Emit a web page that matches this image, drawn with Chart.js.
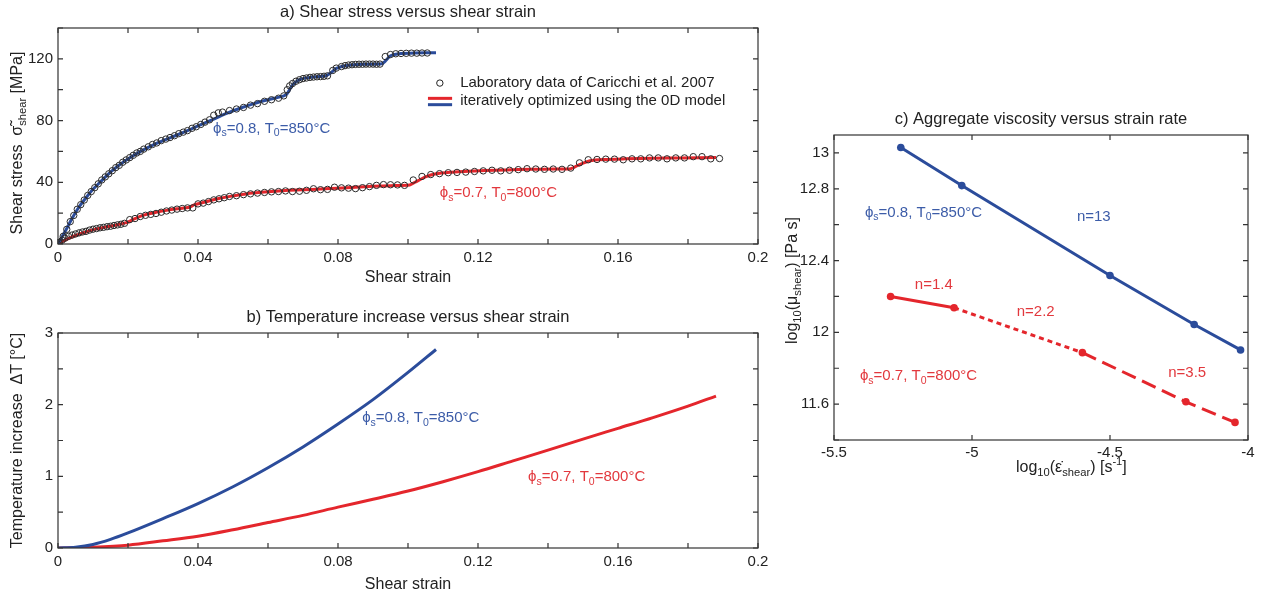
<!DOCTYPE html>
<html>
<head>
<meta charset="utf-8">
<script src="https://cdn.jsdelivr.net/npm/chart.js@4.4.1/dist/chart.umd.min.js"></script>
<style>
  body { margin: 0; background: #fff; }
  #wrap { position: relative; width: 1261px; height: 596px; }
  canvas { position: absolute; }
</style>
</head>
<body>
<div id="wrap">
  <canvas id="chartA" width="782" height="292" style="left:0;top:0;width:782px;height:292px"></canvas>
  <canvas id="chartB" width="782" height="304" style="left:0;top:292px;width:782px;height:304px"></canvas>
  <canvas id="chartC" width="491" height="596" style="left:770px;top:0;width:491px;height:596px"></canvas>
</div>
<script>
// ---- a) shear stress vs shear strain ----
const labBlueStrain = [0.0003,0.0015,0.0025,0.0035,0.0045,0.0055,0.0065,0.0075,0.0085,0.0095,0.0105,0.0115,0.0125,0.0135,0.0145,0.0155,0.0165,0.0175,0.0185,0.0195,0.0205,0.0215,0.0225,0.0235,0.0245,0.0258,0.027,0.0282,0.0295,0.0308,0.032,0.0333,0.0345,0.0358,0.037,0.0383,0.0395,0.0408,0.042,0.0433,0.0445,0.0458,0.047,0.049,0.051,0.053,0.055,0.057,0.059,0.061,0.063,0.0645,0.0655,0.0662,0.067,0.068,0.069,0.070,0.071,0.072,0.073,0.074,0.075,0.076,0.077,0.0785,0.0795,0.081,0.082,0.083,0.084,0.085,0.086,0.087,0.088,0.089,0.090,0.091,0.092,0.0935,0.095,0.0965,0.098,0.0995,0.101,0.1025,0.104,0.1055];
const labBlueStress = [1,5,9.5,14.5,18.5,22.5,25.5,28.5,31.5,34,36.5,39,41.5,43.5,45.5,47.5,49.5,51,53,54.5,56,57.5,59,60,61.5,63,64.5,65.5,67,68,69,70.2,71.5,72.5,73.5,75,76,77.5,79,80.5,83.5,85,85.5,86.5,87.5,88.5,90,91,92.5,93.5,94.5,96,100,102.5,104,105.5,106.5,107.2,107.6,108,108.2,108.4,108.5,108.7,109,112.5,114,115,115.6,116,116.2,116.4,116.5,116.5,116.6,116.6,116.6,116.5,116.6,121.5,122.8,123.3,123.5,123.6,123.7,123.7,123.8,123.8];
const modelBlueStrain = [0,0.0025,0.004,0.006,0.008,0.010,0.012,0.014,0.016,0.018,0.021,0.024,0.028,0.032,0.036,0.040,0.044,0.048,0.052,0.056,0.060,0.0645,0.0655,0.067,0.069,0.072,0.0765,0.078,0.0795,0.083,0.088,0.0925,0.0935,0.095,0.098,0.102,0.108];
const modelBlueStress = [0,10,16.5,24,30,35.5,40,44.5,48.5,52,56.5,60.5,65,68.8,72.5,76.5,80.5,84.5,88,91,93.5,96,97.5,103,106.5,108,109,111,113.8,115.8,116.5,116.8,118.5,122,123.4,123.8,124];
const labRedStrain = [0.0003,0.0012,0.002,0.003,0.004,0.005,0.006,0.007,0.008,0.009,0.010,0.011,0.012,0.013,0.014,0.015,0.016,0.017,0.018,0.019,0.0205,0.022,0.0235,0.025,0.0265,0.028,0.0295,0.031,0.0325,0.034,0.0355,0.037,0.0385,0.040,0.0415,0.043,0.0445,0.046,0.0475,0.049,0.051,0.053,0.055,0.057,0.059,0.061,0.063,0.065,0.067,0.069,0.071,0.073,0.075,0.077,0.079,0.081,0.083,0.085,0.087,0.089,0.091,0.093,0.095,0.097,0.099,0.1015,0.104,0.1065,0.109,0.1115,0.114,0.1165,0.119,0.1215,0.124,0.1265,0.129,0.1315,0.134,0.1365,0.139,0.1415,0.144,0.1465,0.149,0.1515,0.154,0.1565,0.159,0.1615,0.164,0.1665,0.169,0.1715,0.174,0.1765,0.179,0.1815,0.184,0.1865,0.189];
const labRedStress = [0.8,2.5,3.8,5,5.8,6.5,7.2,7.8,8.2,9,9.6,10,10.5,10.8,11.2,11.5,12,12.4,12.8,13.4,15.8,16.5,17.8,18.6,19.2,19.8,20.6,21.4,22,22.6,23,23.4,23.4,26,26.5,27.5,28.6,29.3,30,30.8,31.3,32,32.5,33,33.4,33.8,34,34.4,34,34.2,34.8,35.8,35.2,35.4,36.8,36.4,36.2,35.9,36.5,37.2,38,38.5,38.4,38.3,38,41.5,43.8,45,45.6,46.2,46.4,46.6,47,47.4,47.8,47.4,47.8,48.2,48.8,48.6,48.4,48.6,48.4,49.2,52.6,54.6,54.8,55,55,54.6,55.2,55.2,55.8,55.8,55.2,55.8,55.8,56.6,56.6,55.2,55.4];
const modelRedStrain = [0,0.002,0.005,0.008,0.011,0.014,0.017,0.0195,0.022,0.025,0.028,0.031,0.034,0.0375,0.039,0.042,0.046,0.050,0.054,0.058,0.062,0.066,0.070,0.075,0.080,0.085,0.090,0.095,0.1005,0.102,0.105,0.108,0.112,0.116,0.122,0.128,0.135,0.142,0.1465,0.149,0.152,0.156,0.162,0.170,0.178,0.188];
const modelRedStress = [0,2.5,5.5,7.8,9.8,11.2,12.5,13.8,16.5,19,20.5,21.8,22.8,23.8,25.5,27.2,29.5,31.2,32.6,33.5,34.2,34.8,35.2,35.6,36.2,36.8,37.4,37.8,38.2,40,43.5,45.5,46.5,47,47.6,48,48.4,48.6,48.8,51.5,54,54.8,55.2,55.6,55.8,56];

// ---- b) temperature increase vs shear strain ----
const tempBlueStrain = [0,0.005,0.01,0.015,0.02,0.03,0.04,0.05,0.06,0.07,0.08,0.09,0.1,0.108];
const tempBlueDT = [0,0.012,0.05,0.12,0.21,0.41,0.62,0.855,1.12,1.41,1.73,2.07,2.45,2.77];
const tempRedStrain = [0,0.01,0.02,0.03,0.04,0.05,0.06,0.07,0.08,0.09,0.1,0.11,0.12,0.13,0.14,0.15,0.16,0.17,0.18,0.188];
const tempRedDT = [0,0.012,0.04,0.1,0.165,0.255,0.355,0.455,0.57,0.68,0.795,0.925,1.065,1.215,1.365,1.52,1.67,1.82,1.98,2.12];

// ---- c) aggregate viscosity vs strain rate ----
const rateBlue = [-5.258,-5.037,-4.5,-4.195,-4.027];
const viscBlue = [13.03,12.818,12.317,12.044,11.902];
const rateRed = [-5.295,-5.065,-4.6,-4.225,-4.047];
const viscRed = [12.2,12.137,11.887,11.613,11.498];
const viscYTickLabels = [11.6, 12, 12.4, 12.8, 13];

const FONT = "'Liberation Sans', Arial, Helvetica, sans-serif";
const BLUE = '#2b4c9b', RED = '#e4262c';
const TXT_BLUE = '#3c5ca8', TXT_RED = '#e2383d', INK = '#222';
Chart.defaults.font.family = FONT;
Chart.defaults.font.size = 15;
Chart.defaults.color = INK;

function xy(xs, ys) { return xs.map((x, i) => ({ x: x, y: ys[i] })); }

function drawRich(ctx, parts, x, y, size, color, align) {
  const seg = parts.map(([t, k]) => {
    const fs = k ? size * 0.7 : size;
    ctx.font = fs + 'px ' + FONT;
    return { t: t, fs: fs, w: ctx.measureText(t).width, dy: k === 'sub' ? size * 0.32 : (k === 'sup' ? -size * 0.38 : 0) };
  });
  const total = seg.reduce((s, p) => s + p.w, 0);
  let cx = align === 'center' ? x - total / 2 : x;
  ctx.fillStyle = color;
  ctx.textBaseline = 'middle';
  ctx.textAlign = 'left';
  seg.forEach(p => { ctx.font = p.fs + 'px ' + FONT; ctx.fillText(p.t, cx, y + p.dy); cx += p.w; });
}

// box, inward ticks, titles, labels and notes
const frame = {
  id: 'frame',
  afterDraw(chart, args, o) {
    const ctx = chart.ctx, a = chart.chartArea;
    const xs = chart.scales.x, ys = chart.scales.y;
    ctx.save();
    ctx.strokeStyle = '#333';
    ctx.lineWidth = 1.2;
    ctx.strokeRect(a.left, a.top, a.right - a.left, a.bottom - a.top);
    ctx.beginPath();
    xs.ticks.forEach(t => {
      const p = xs.getPixelForValue(t.value);
      ctx.moveTo(p, a.bottom); ctx.lineTo(p, a.bottom - 5);
      ctx.moveTo(p, a.top); ctx.lineTo(p, a.top + 5);
    });
    ys.ticks.forEach(t => {
      const p = ys.getPixelForValue(t.value);
      ctx.moveTo(a.left, p); ctx.lineTo(a.left + 5, p);
      ctx.moveTo(a.right, p); ctx.lineTo(a.right - 5, p);
    });
    ctx.stroke();

    const cx = (a.left + a.right) / 2;
    drawRich(ctx, [[o.title, '']], cx, a.top - 16, 16.5, INK, 'center');
    const xlx = o.xLabel.at !== undefined ? xs.getPixelForValue(o.xLabel.at) : cx;
    drawRich(ctx, o.xLabel.parts, xlx, a.bottom + o.xLabel.dy, 16, INK, 'center');
    ctx.save();
    ctx.translate(o.yLabel.x, (a.top + a.bottom) / 2 + o.yLabel.dy);
    ctx.rotate(-Math.PI / 2);
    drawRich(ctx, o.yLabel.parts, 0, 0, 16, INK, 'center');
    ctx.restore();

    (o.notes || []).forEach(n => {
      drawRich(ctx, n.parts, xs.getPixelForValue(n.x), ys.getPixelForValue(n.y), 15, n.color, 'left');
    });

    if (o.legend) {
      const L = o.legend;
      ctx.strokeStyle = '#222'; ctx.lineWidth = 1;
      ctx.beginPath();
      ctx.arc(xs.getPixelForValue(L.markX), ys.getPixelForValue(L.row1), 3.2, 0, Math.PI * 2);
      ctx.stroke();
      ctx.lineWidth = 3;
      [[RED, L.redY], [BLUE, L.blueY]].forEach(([c, yv]) => {
        ctx.strokeStyle = c;
        ctx.beginPath();
        ctx.moveTo(xs.getPixelForValue(L.lineX0), ys.getPixelForValue(yv));
        ctx.lineTo(xs.getPixelForValue(L.lineX1), ys.getPixelForValue(yv));
        ctx.stroke();
      });
      drawRich(ctx, [['Laboratory data of Caricchi et al. 2007', '']], xs.getPixelForValue(L.textX), ys.getPixelForValue(L.row1), 15, INK, 'left');
      drawRich(ctx, [['iteratively optimized using the 0D model', '']], xs.getPixelForValue(L.textX), ys.getPixelForValue(L.row2), 15, INK, 'left');
    }
    ctx.restore();
  }
};

function scales(o) {
  return {
    x: {
      type: 'linear', min: o.xMin, max: o.xMax,
      grid: { display: false, drawTicks: false, tickLength: 0 }, border: { display: false },
      ticks: { stepSize: o.xStep, padding: o.xPad, maxRotation: 0, autoSkip: false, includeBounds: false, callback: o.xFmt },
      afterFit: s => { s.height = o.xH; }
    },
    y: {
      type: 'linear', min: o.yMin, max: o.yMax,
      grid: { display: false, drawTicks: false, tickLength: 0 }, border: { display: false },
      ticks: { stepSize: o.yStep, padding: 5, autoSkip: false, includeBounds: false, callback: o.yFmt },
      afterFit: s => { s.width = o.yW; }
    }
  };
}

const strainFmt = v => {
  const k = Math.round(v / 0.02);
  if (k % 2 !== 0) return '';
  return k === 0 ? '0' : String(Number(v.toFixed(2)));
};

const phi08 = [['ϕ', ''], ['s', 'sub'], ['=0.8, T', ''], ['0', 'sub'], ['=850°C', '']];
const phi07 = [['ϕ', ''], ['s', 'sub'], ['=0.7, T', ''], ['0', 'sub'], ['=800°C', '']];

const base = { responsive: false, animation: false, events: [], devicePixelRatio: 1 };

// a) shear stress
new Chart(document.getElementById('chartA'), {
  type: 'scatter',
  data: {
    datasets: [
      { data: xy(labBlueStrain, labBlueStress), pointRadius: 3.2, borderColor: '#2a2a2a', borderWidth: 1, backgroundColor: 'rgba(0,0,0,0)' },
      { data: xy(labRedStrain, labRedStress), pointRadius: 3.2, borderColor: '#2a2a2a', borderWidth: 1, backgroundColor: 'rgba(0,0,0,0)' },
      { data: xy(modelBlueStrain, modelBlueStress), showLine: true, pointRadius: 0, borderColor: BLUE, borderWidth: 3, tension: 0.2 },
      { data: xy(modelRedStrain, modelRedStress), showLine: true, pointRadius: 0, borderColor: RED, borderWidth: 3, tension: 0.2 }
    ]
  },
  options: Object.assign({}, base, {
    layout: { padding: { left: 0, right: 24, top: 28, bottom: 0 } },
    scales: scales({ xMin: 0, xMax: 0.2, xStep: 0.02, xPad: 5, xFmt: strainFmt, xH: 48,
      yMin: 0, yMax: 140, yStep: 20, yW: 58, yFmt: v => (v % 40 === 0 ? String(v) : '') }),
    plugins: {
      legend: { display: false }, tooltip: { enabled: false },
      frame: {
        title: 'a) Shear stress versus shear strain',
        xLabel: { parts: [['Shear strain', '']], dy: 34 },
        yLabel: { parts: [['Shear stress  σ̃', ''], ['shear', 'sub'], [' [MPa]', '']], x: 18, dy: 7 },
        notes: [
          { parts: phi08, x: 0.0443, y: 74.8, color: TXT_BLUE },
          { parts: phi07, x: 0.1091, y: 32.9, color: TXT_RED }
        ],
        legend: { markX: 0.1091, textX: 0.1149, row1: 104.3, row2: 92.9, redY: 94.4, blueY: 90.3, lineX0: 0.1057, lineX1: 0.1126 }
      }
    }
  }),
  plugins: [frame]
});

// b) temperature increase
new Chart(document.getElementById('chartB'), {
  type: 'scatter',
  data: {
    datasets: [
      { data: xy(tempBlueStrain, tempBlueDT), showLine: true, pointRadius: 0, borderColor: BLUE, borderWidth: 3, cubicInterpolationMode: 'monotone' },
      { data: xy(tempRedStrain, tempRedDT), showLine: true, pointRadius: 0, borderColor: RED, borderWidth: 3, cubicInterpolationMode: 'monotone' }
    ]
  },
  options: Object.assign({}, base, {
    layout: { padding: { left: 0, right: 24, top: 41, bottom: 0 } },
    scales: scales({ xMin: 0, xMax: 0.2, xStep: 0.02, xPad: 5, xFmt: strainFmt, xH: 48,
      yMin: 0, yMax: 3, yStep: 0.5, yW: 58, yFmt: v => (Number.isInteger(v) ? String(v) : '') }),
    plugins: {
      legend: { display: false }, tooltip: { enabled: false },
      frame: {
        title: 'b) Temperature increase versus shear strain',
        xLabel: { parts: [['Shear strain', '']], dy: 37 },
        yLabel: { parts: [['Temperature increase  ΔT [°C]', '']], x: 18, dy: 0 },
        notes: [
          { parts: phi08, x: 0.0869, y: 1.81, color: TXT_BLUE },
          { parts: phi07, x: 0.1343, y: 0.99, color: TXT_RED }
        ]
      }
    }
  }),
  plugins: [frame]
});

// c) aggregate viscosity
const redDash = [[], [5, 4], [15, 7], [15, 7]];
new Chart(document.getElementById('chartC'), {
  type: 'scatter',
  data: {
    datasets: [
      { data: xy(rateBlue, viscBlue), showLine: true, borderColor: BLUE, backgroundColor: BLUE, borderWidth: 3, pointRadius: 3.8, pointBorderWidth: 0 },
      { data: xy(rateRed, viscRed), showLine: true, borderColor: RED, backgroundColor: RED, borderWidth: 3, pointRadius: 3.8, pointBorderWidth: 0,
        segment: { borderDash: c => redDash[c.p0DataIndex] } }
    ]
  },
  options: Object.assign({}, base, {
    layout: { padding: { left: 0, right: 13, top: 135, bottom: 0 } },
    scales: scales({ xMin: -5.5, xMax: -4, xStep: 0.5, xPad: 4, xFmt: v => String(v), xH: 156,
      yMin: 11.4, yMax: 13.1, yStep: 0.2, yW: 64,
      yFmt: v => (viscYTickLabels.some(t => Math.abs(t - v) < 1e-6) ? String(Number(v.toFixed(1))) : '') }),
    plugins: {
      legend: { display: false }, tooltip: { enabled: false },
      frame: {
        title: 'c) Aggregate viscosity versus strain rate',
        xLabel: { parts: [['log', ''], ['10', 'sub'], ['(ε̇', ''], ['shear', 'sub'], [') [s', ''], ['-1', 'sup'], [']', '']], dy: 28, at: -4.64 },
        yLabel: { parts: [['log', ''], ['10', 'sub'], ['(μ', ''], ['shear', 'sub'], [') [Pa s]', '']], x: 23, dy: -7 },
        notes: [
          { parts: phi08, x: -5.388, y: 12.667, color: TXT_BLUE },
          { parts: [['n=13', '']], x: -4.62, y: 12.644, color: TXT_BLUE },
          { parts: [['n=1.4', '']], x: -5.207, y: 12.267, color: TXT_RED },
          { parts: [['n=2.2', '']], x: -4.838, y: 12.115, color: TXT_RED },
          { parts: [['n=3.5', '']], x: -4.289, y: 11.772, color: TXT_RED },
          { parts: phi07, x: -5.406, y: 11.757, color: TXT_RED }
        ]
      }
    }
  }),
  plugins: [frame]
});
</script>
</body>
</html>
